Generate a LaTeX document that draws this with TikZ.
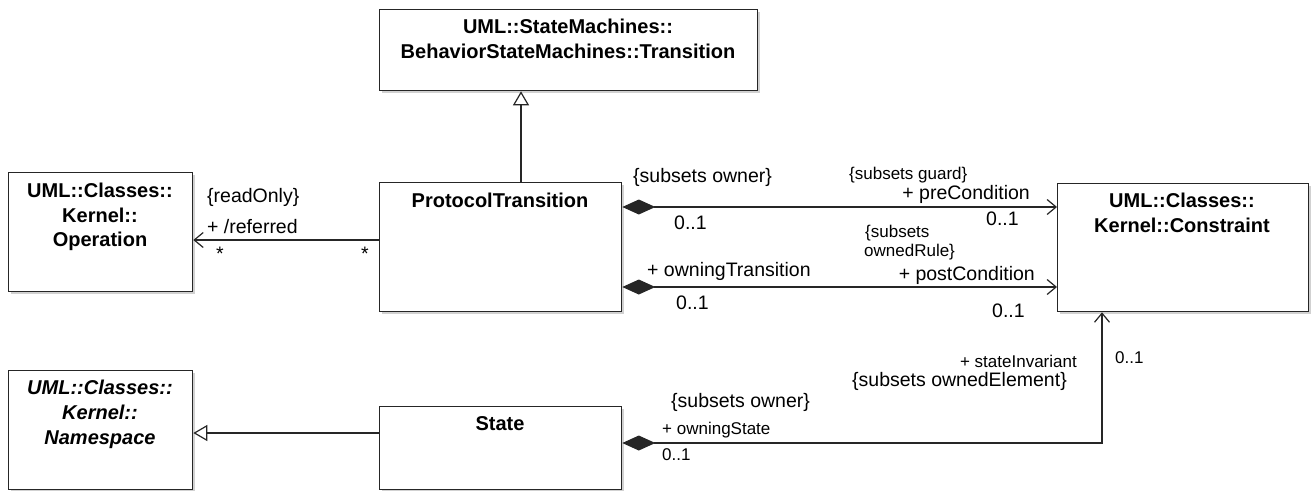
\documentclass[tikz,border=0pt]{standalone}
\usepackage{fontspec}
\setmainfont{Liberation Sans}
\usetikzlibrary{arrows.meta,shadows}
\begin{document}
\begin{tikzpicture}[x=1pt,y=-1pt,
  box/.style={draw=black!85, line width=1.3pt, fill=white, inner sep=0pt, anchor=north west,
    drop shadow={shadow xshift=2pt, shadow yshift=-2pt, opacity=0.3, fill=black!60}},
  ttl/.style={font=\fontsize{20}{22}\selectfont\bfseries, anchor=base, inner sep=0pt},
  ttli/.style={font=\fontsize{20}{22}\selectfont\bfseries\itshape, anchor=base, inner sep=0pt},
  lbl/.style={font=\fontsize{19.5}{22}\selectfont, inner sep=0pt},
  sml/.style={font=\fontsize{17}{19}\selectfont, inner sep=0pt},
  conn/.style={line width=1.2pt, draw=black!85},
  gen/.style={conn, -{Triangle[open,length=14pt,width=16pt,fill=white]}},
  nav/.style={conn, -{Straight Barb[length=9pt,width=15pt]}},
  comp/.style={conn, {Diamond[length=33pt,width=15pt]}-{Straight Barb[length=9pt,width=15pt]}},
]
\useasboundingbox (0,0) rectangle (1316,490);

% boxes
\node[box, minimum width=378pt, minimum height=81pt] (tr) at (379,9) {};
\node[box, minimum width=242pt, minimum height=129pt] (pt) at (379,182) {};
\node[box, minimum width=184pt, minimum height=119pt] (op) at (8,172) {};
\node[box, minimum width=184pt, minimum height=119pt] (ns) at (8,370) {};
\node[box, minimum width=242pt, minimum height=83pt] (st) at (379,406) {};
\node[box, minimum width=251pt, minimum height=128pt] (con) at (1057,183) {};

% titles
\node[ttl] (trA) at (568,33) {UML::StateMachines::};
\node[ttl] (trB) at (568,58) {BehaviorStateMachines::Transition};
\node[ttl] (opA) at (100,197) {UML::Classes::};
\node[ttl] (opB) at (100,222) {Kernel::};
\node[ttl] (opC) at (100,246) {Operation};
\node[ttl] (ptA) at (500,207) {ProtocolTransition};
\node[ttl] (conA) at (1182,207) {UML::Classes::};
\node[ttl] (conB) at (1182,232) {Kernel::Constraint};
\node[ttli] (nsA) at (100,394) {UML::Classes::};
\node[ttli] (nsB) at (100,419) {Kernel::};
\node[ttli] (nsC) at (100,444) {Namespace};
\node[ttl] (stA) at (500,430) {State};

% routing coordinates
\coordinate (gx) at (521,0);
\coordinate (refy) at (0,240);
\coordinate (prey) at (0,207);
\coordinate (posty) at (0,287);
\coordinate (nsy) at (0,433);
\coordinate (sib) at (1102,443);

% connectors
\draw[gen] (pt.north -| gx) -- (tr.south -| gx);
\draw[nav] (pt.west |- refy) -- (op.east |- refy);
\draw[comp] (pt.east |- prey) -- (con.west |- prey);
\draw[comp] (pt.east |- posty) -- (con.west |- posty);
\draw[gen] (st.west |- nsy) -- (ns.east |- nsy);
\draw[comp] (st.east |- sib) -| (con.south -| sib);

% labels: Operation association
\node[lbl, anchor=base west] (ro) at (207,202) {\{readOnly\}};
\node[lbl, anchor=base west] (ref) at (207,233) {+ /referred};
\node[lbl, anchor=base] (m1) at (220,260) {*};
\node[lbl, anchor=base] (m2) at (365,260) {*};

% labels: preCondition
\node[lbl, anchor=base west] (so1) at (633,182) {\{subsets owner\}};
\node[lbl, anchor=base west] (pm1) at (674,229) {0..1};
\node[sml, anchor=base west] (sg) at (849,179) {\{subsets guard\}};
\node[lbl, anchor=base east] (pre) at (1030,199) {+ preCondition};
\node[lbl, anchor=base west] (pm2) at (986,225) {0..1};

% labels: postCondition
\node[sml, anchor=base west] (sr1) at (865,237) {\{subsets};
\node[sml, anchor=base west] (sr2) at (864,256) {ownedRule\}};
\node[lbl, anchor=base west] (ot) at (647,276) {+ owningTransition};
\node[lbl, anchor=base east] (post) at (1035,280) {+ postCondition};
\node[lbl, anchor=base west] (qm1) at (676,309) {0..1};
\node[lbl, anchor=base west] (qm2) at (992,317) {0..1};

% labels: stateInvariant
\node[sml, anchor=base east] (si) at (1077,367) {+ stateInvariant};
\node[lbl, anchor=base east] (soe) at (1067,386) {\{subsets ownedElement\}};
\node[sml, anchor=base west] (sm1) at (1115,363) {0..1};
\node[lbl, anchor=base west] (so2) at (671,407) {\{subsets owner\}};
\node[sml, anchor=base west] (os) at (662,434) {+ owningState};
\node[sml, anchor=base west] (sm2) at (662,460) {0..1};
\end{tikzpicture}
\end{document}
